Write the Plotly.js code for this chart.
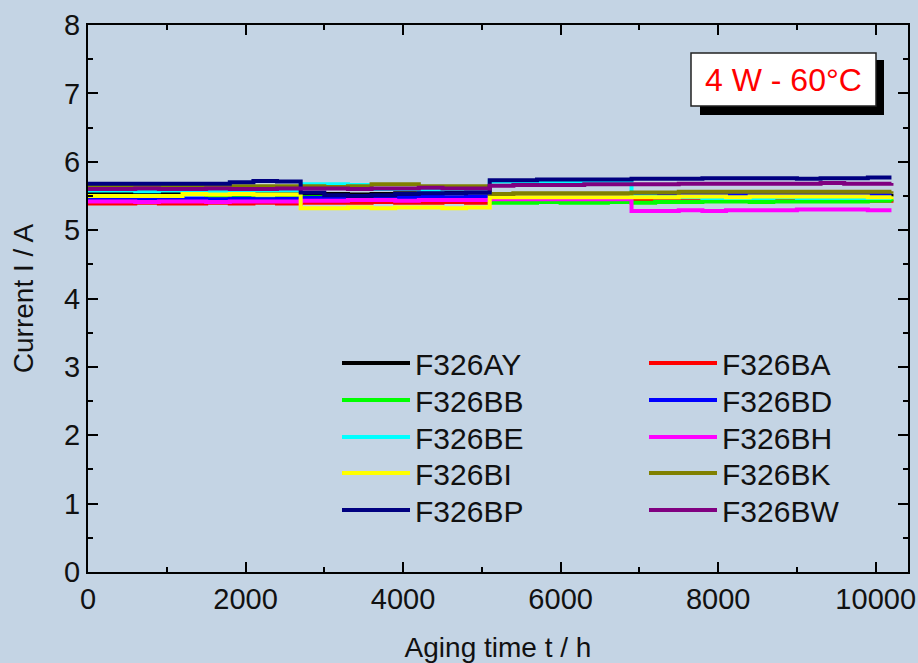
<!DOCTYPE html>
<html>
<head>
<meta charset="utf-8">
<script src="https://cdn.plot.ly/plotly-3.0.1.min.js"></script>
<style>html,body{margin:0;padding:0;background:#c4d4e4;}#chart{width:918px;height:663px;}</style>
</head>
<body>
<div id="chart"></div>
<script>
// Aging time (h)
const timeH = [0,300,600,900,1200,1500,1800,2100,2400,2700,3000,3300,3600,3900,4200,4500,4800,5100,5400,5700,6000,6300,6600,6900,7200,7500,7800,8100,8400,8700,9000,9300,9600,9900,10200];

const seriesNames = ["F326AY","F326BA","F326BB","F326BD","F326BE","F326BH","F326BI","F326BK","F326BP","F326BW"];
const seriesColors = ["#000000","#ff0000","#00ff00","#0000ff","#00ffff","#ff00ff","#ffff00","#808000","#000080","#800080"];

// Current (A)
const F326AY = [5.55,5.54,5.54,5.55,5.54,5.54,5.55,5.54,5.54,5.53,5.53,5.52,5.53,5.54,5.54,5.55,5.55,5.53,5.53,5.52,5.52,5.53,5.52,5.52,5.53,5.52,5.52,5.53,5.53,5.52,5.52,5.53,5.52,5.52,5.53];
const F326BA = [5.39,5.39,5.40,5.39,5.39,5.40,5.39,5.40,5.39,5.40,5.40,5.40,5.41,5.40,5.40,5.41,5.40,5.43,5.43,5.43,5.44,5.43,5.43,5.44,5.43,5.43,5.44,5.43,5.43,5.44,5.43,5.44,5.43,5.43,5.44];
const F326BB = [5.47,5.47,5.48,5.47,5.46,5.47,5.47,5.46,5.47,5.48,5.47,5.47,5.46,5.47,5.48,5.47,5.47,5.40,5.40,5.41,5.40,5.40,5.41,5.40,5.41,5.41,5.42,5.42,5.41,5.42,5.42,5.42,5.42,5.43,5.42];
const F326BD = [5.46,5.46,5.45,5.46,5.46,5.45,5.46,5.45,5.46,5.47,5.48,5.49,5.49,5.48,5.49,5.48,5.49,5.52,5.52,5.53,5.52,5.52,5.53,5.52,5.52,5.52,5.53,5.53,5.52,5.52,5.52,5.52,5.52,5.52,5.52];
const F326BE = [5.58,5.58,5.57,5.58,5.58,5.57,5.58,5.58,5.58,5.67,5.67,5.66,5.60,5.60,5.59,5.60,5.60,5.71,5.71,5.71,5.70,5.70,5.70,5.49,5.48,5.48,5.47,5.47,5.47,5.48,5.47,5.47,5.47,5.47,5.47];
const F326BH = [5.42,5.42,5.41,5.42,5.42,5.41,5.42,5.42,5.42,5.43,5.43,5.44,5.44,5.43,5.44,5.44,5.44,5.45,5.45,5.45,5.45,5.45,5.45,5.28,5.28,5.29,5.28,5.29,5.29,5.29,5.30,5.30,5.30,5.29,5.29];
const F326BI = [5.50,5.50,5.50,5.50,5.53,5.52,5.53,5.52,5.52,5.32,5.32,5.33,5.32,5.33,5.33,5.32,5.33,5.48,5.48,5.48,5.48,5.48,5.48,5.48,5.48,5.49,5.49,5.48,5.49,5.49,5.49,5.49,5.49,5.48,5.49];
const F326BK = [5.65,5.65,5.65,5.64,5.64,5.65,5.64,5.64,5.64,5.64,5.63,5.64,5.67,5.67,5.64,5.64,5.64,5.53,5.54,5.54,5.54,5.54,5.54,5.55,5.55,5.56,5.56,5.56,5.56,5.56,5.56,5.56,5.56,5.56,5.57];
const F326BP = [5.68,5.68,5.68,5.68,5.68,5.68,5.70,5.72,5.71,5.55,5.51,5.50,5.51,5.53,5.54,5.54,5.55,5.73,5.73,5.74,5.74,5.74,5.74,5.75,5.75,5.75,5.76,5.76,5.76,5.76,5.75,5.76,5.76,5.77,5.77];
const F326BW = [5.60,5.60,5.61,5.60,5.60,5.61,5.60,5.60,5.61,5.61,5.61,5.60,5.61,5.61,5.62,5.61,5.61,5.65,5.66,5.66,5.66,5.67,5.67,5.67,5.67,5.68,5.68,5.68,5.68,5.68,5.68,5.69,5.68,5.68,5.69];

const seriesValues = [F326AY,F326BA,F326BB,F326BD,F326BE,F326BH,F326BI,F326BK,F326BP,F326BW];

const FONT = '"Liberation Sans", Arial, sans-serif';
const W = 918, H = 663, ML = 88, MR = 10, MT = 25, MB = 91;
const PW = W - ML - MR, PH = H - MT - MB;
const px = v => (v - ML) / PW;
const py = v => (H - MB - v) / PH;

// legend placement (two columns, five rows)
const legendCol = [0,1,0,1,0,1,0,1,0,1];
const legendRow = [0,0,1,1,2,2,3,3,4,4];
const colX = [335, 642];
const rowY = [363, 400, 437, 473, 510];

const traces = seriesNames.map((n, i) => ({
  x: timeH, y: seriesValues[i], name: n, type: 'scatter', mode: 'lines',
  line: {color: seriesColors[i], width: 4, shape: 'hv'},
  legend: i === 0 ? 'legend' : 'legend' + (i + 1)
}));

const layout = {
  width: W, height: H,
  margin: {l: ML, r: MR, t: MT, b: MB},
  paper_bgcolor: '#c4d4e4', plot_bgcolor: '#c4d4e4',
  font: {family: FONT, size: 29, color: '#111'},
  showlegend: true,
  xaxis: {
    range: [0, 10410], dtick: 2000, tick0: 0, tickformat: 'd',
    ticks: 'inside', ticklen: 10, tickwidth: 2, tickcolor: '#000',
    showline: true, linewidth: 2, linecolor: '#000', mirror: 'ticks',
    showgrid: false, zeroline: false,
    minor: {dtick: 1000, ticks: 'inside', ticklen: 5, tickwidth: 2, tickcolor: '#000', showgrid: false},
    tickfont: {family: FONT, size: 29, color: '#111'},
    title: {text: 'Aging time t / h', font: {family: FONT, size: 28, color: '#111'}, standoff: 25}
  },
  yaxis: {
    range: [0, 8], dtick: 1, tick0: 0,
    ticks: 'inside', ticklen: 10, tickwidth: 2, tickcolor: '#000',
    showline: true, linewidth: 2, linecolor: '#000', mirror: 'ticks',
    showgrid: false, zeroline: false,
    minor: {dtick: 0.5, ticks: 'inside', ticklen: 5, tickwidth: 2, tickcolor: '#000', showgrid: false},
    tickfont: {family: FONT, size: 29, color: '#111'},
    title: {text: 'Current I / A', font: {family: FONT, size: 28, color: '#111'}, standoff: 22}
  },
  shapes: [
    {type: 'rect', xref: 'paper', yref: 'paper', x0: px(700), x1: px(884), y0: py(115), y1: py(60),
     fillcolor: '#000', line: {width: 0}, layer: 'above'},
    {type: 'rect', xref: 'paper', yref: 'paper', x0: px(691), x1: px(876), y0: py(106), y1: py(53),
     fillcolor: '#fff', line: {color: '#222', width: 1.5}, layer: 'above'}
  ],
  annotations: [
    {xref: 'paper', yref: 'paper', x: px(783), y: py(80), text: '4 W - 60°C', showarrow: false,
     xanchor: 'center', yanchor: 'middle', font: {family: FONT, size: 32, color: '#ff0000'}}
  ]
};

seriesNames.forEach((n, i) => {
  const key = i === 0 ? 'legend' : 'legend' + (i + 1);
  layout[key] = {
    x: px(colX[legendCol[i]] + 2), y: py(rowY[legendRow[i]]), xanchor: 'left', yanchor: 'middle',
    bgcolor: 'rgba(0,0,0,0)', borderwidth: 0, itemwidth: 68,
    font: {family: FONT, size: 30, color: '#111'}
  };
});

Plotly.newPlot('chart', traces, layout, {displayModeBar: false, staticPlot: true});
</script>
</body>
</html>
